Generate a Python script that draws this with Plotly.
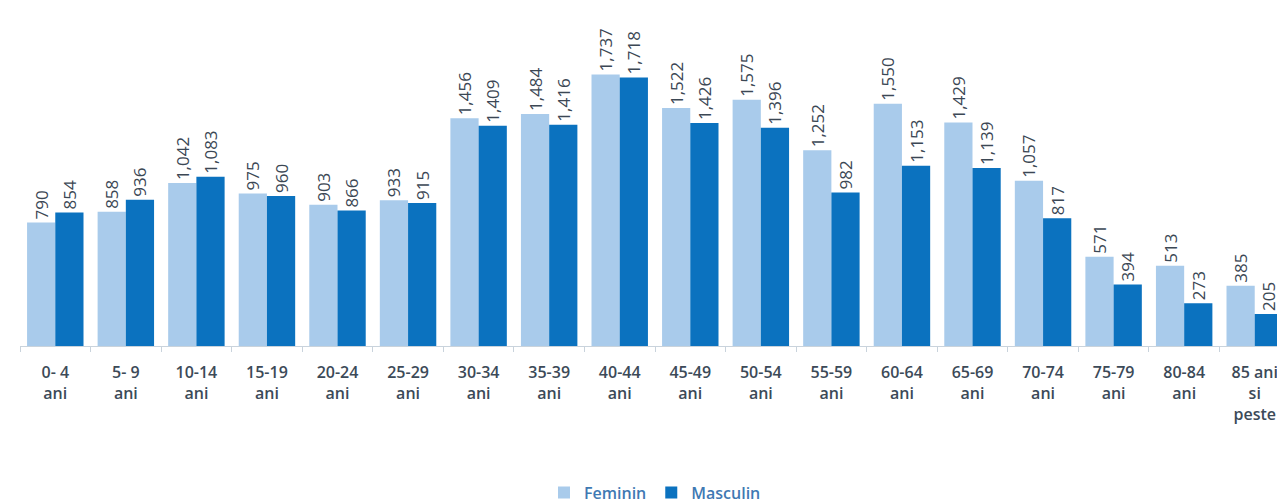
import plotly.graph_objects as go

categories = ["0- 4<br>ani", "5- 9<br>ani", "10-14<br>ani", "15-19<br>ani", "20-24<br>ani",
              "25-29<br>ani", "30-34<br>ani", "35-39<br>ani", "40-44<br>ani", "45-49<br>ani",
              "50-54<br>ani", "55-59<br>ani", "60-64<br>ani", "65-69<br>ani", "70-74<br>ani",
              "75-79<br>ani", "80-84<br>ani", "85 ani<br>si<br>peste"]
feminin = [790, 858, 1042, 975, 903, 933, 1456, 1484, 1737, 1522, 1575, 1252, 1550, 1429, 1057, 571, 513, 385]
masculin = [854, 936, 1083, 960, 866, 915, 1409, 1416, 1718, 1426, 1396, 982, 1153, 1139, 817, 394, 273, 205]

label_font = dict(family="Open Sans", size=17, color="#3b4754")

fig = go.Figure()
fig.add_trace(go.Bar(
    name="Feminin", x=categories, y=feminin,
    marker=dict(color="#a9cbeb", line=dict(width=0)),
    text=[f"{v:,}" for v in feminin], textposition="outside", textangle=-90,
    textfont=label_font, cliponaxis=False, constraintext="none",
))
fig.add_trace(go.Bar(
    name="Masculin", x=categories, y=masculin,
    marker=dict(color="#0b72bf", line=dict(width=0)),
    text=[f"{v:,}" for v in masculin], textposition="outside", textangle=-90,
    textfont=label_font, cliponaxis=False, constraintext="none",
))

fig.update_layout(
    width=1285, height=504,
    margin=dict(l=12, r=3, t=5, b=161),
    barmode="group", bargap=0.2, bargroupgap=0.0,
    plot_bgcolor="white", paper_bgcolor="white",
    showlegend=True,
    legend=dict(orientation="h", x=0.5, xanchor="center", y=-0.44, yanchor="middle",
                font=dict(family="Open Sans", size=16, color="#3f79b3", weight=600),
                itemsizing="constant"),
    xaxis=dict(showline=True, linecolor="#c9d3dc", linewidth=1,
               ticks="outside", tickson="boundaries", ticklen=5, tickcolor="#c9d3dc",
               ticklabelstandoff=12,
               tickfont=dict(family="Open Sans", size=16, color="#3c4a58", weight=600),
               showgrid=False),
    yaxis=dict(range=[0, 2130], visible=False, showgrid=False),
)

fig.write_html("out.html")
